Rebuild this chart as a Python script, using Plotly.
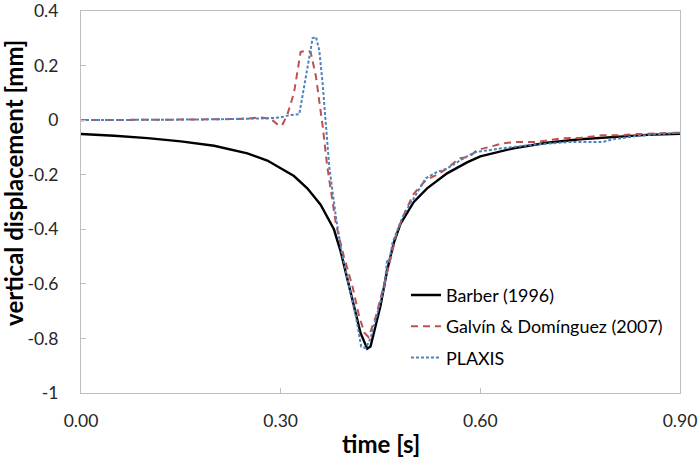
import plotly.graph_objects as go

# Barber (1996)
barber_t = [0.00, 0.05, 0.10, 0.15, 0.20, 0.25, 0.28, 0.30, 0.32, 0.34, 0.36, 0.38, 0.39, 0.40, 0.41, 0.42, 0.43, 0.435,
            0.44, 0.45, 0.46, 0.47, 0.48, 0.50, 0.52, 0.55, 0.58, 0.60, 0.65, 0.70, 0.75, 0.80, 0.85, 0.90]
barber_v = [-0.051, -0.057, -0.066, -0.078, -0.094, -0.122, -0.148, -0.175, -0.205, -0.25, -0.31, -0.40, -0.48, -0.58,
            -0.68, -0.78, -0.838, -0.83, -0.78, -0.68, -0.55, -0.45, -0.38, -0.30, -0.25, -0.195, -0.155, -0.133,
            -0.103, -0.083, -0.07, -0.061, -0.054, -0.05]

# Galvín & Domínguez (2007)
galvin_t = [0.00, 0.05, 0.10, 0.15, 0.20, 0.25, 0.268, 0.285, 0.295, 0.302, 0.31, 0.32, 0.33, 0.34, 0.345, 0.353, 0.363,
            0.37, 0.383, 0.395, 0.408, 0.418, 0.426, 0.432, 0.443, 0.455, 0.466, 0.474, 0.488, 0.50, 0.518, 0.535,
            0.55, 0.568, 0.583, 0.595, 0.613, 0.634, 0.654, 0.684, 0.723, 0.75, 0.784, 0.81, 0.835, 0.86, 0.889, 0.90]
galvin_v = [0.0, 0.0, 0.0, 0.002, 0.003, 0.005, 0.01, 0.005, -0.015, -0.02, 0.02, 0.10, 0.25, 0.255, 0.25, 0.16, -0.02,
            -0.17, -0.38, -0.50, -0.61, -0.72, -0.78, -0.795, -0.72, -0.61, -0.50, -0.415, -0.33, -0.27, -0.22, -0.20,
            -0.177, -0.14, -0.135, -0.11, -0.098, -0.085, -0.08, -0.08, -0.066, -0.065, -0.055, -0.055, -0.051, -0.05,
            -0.047, -0.046]

# PLAXIS
plaxis_t = [0.00, 0.05, 0.10, 0.15, 0.20, 0.25, 0.27, 0.283, 0.30, 0.313, 0.328, 0.338, 0.348, 0.353, 0.358, 0.363,
            0.368, 0.373, 0.383, 0.391, 0.403, 0.413, 0.421, 0.428, 0.435, 0.443, 0.456, 0.46, 0.463, 0.468, 0.483,
            0.504, 0.518, 0.535, 0.55, 0.583, 0.593, 0.633, 0.68, 0.734, 0.784, 0.80, 0.835, 0.889, 0.90]
plaxis_v = [0.0, 0.0, 0.0, 0.002, 0.003, 0.004, 0.007, 0.007, 0.01, 0.018, 0.022, 0.158, 0.30, 0.305, 0.256, 0.135,
            -0.02, -0.17, -0.355, -0.476, -0.61, -0.72, -0.83, -0.835, -0.80, -0.73, -0.61, -0.51, -0.52, -0.45,
            -0.355, -0.27, -0.213, -0.19, -0.177, -0.128, -0.117, -0.103, -0.09, -0.08, -0.08, -0.07, -0.058, -0.047,
            -0.046]

y_ticks = [0.4, 0.2, 0, -0.2, -0.4, -0.6, -0.8, -1]
y_ticklabels = ["0.4", "0.2", "0", "-0.2", "-0.4", "-0.6", "-0.8", "-1"]
x_ticks = [0.0, 0.3, 0.6, 0.9]
x_ticklabels = ["0.00", "0.30", "0.60", "0.90"]

x_title = "time [s]"
y_title = "vertical displacement [mm]"

FONT = "Lato, Open Sans, sans-serif"

fig = go.Figure()
fig.add_trace(go.Scatter(x=barber_t, y=barber_v, mode="lines", name="Barber (1996)", legendgroup="a",
                         line=dict(color="#000000", width=2.4)))
fig.add_trace(go.Scatter(x=galvin_t, y=galvin_v, mode="lines", name="Galvín & Domínguez (2007)", legendgroup="b",
                         line=dict(color="#C0504D", width=2, dash="7px,5px")))
fig.add_trace(go.Scatter(x=plaxis_t, y=plaxis_v, mode="lines", name="PLAXIS", legendgroup="c",
                         line=dict(color="#4F81BD", width=2, dash="3px,2px")))

axis_common = dict(showline=True, linecolor="#BFBFBF", linewidth=1.2, mirror=True, showgrid=False, zeroline=False,
                   ticks="inside", ticklen=5, tickcolor="#BFBFBF", automargin=False, ticklabeloverflow="allow",
                   tickfont=dict(family=FONT, size=17.5, color="#262626"))

fig.update_xaxes(range=[0, 0.9], tickvals=x_ticks, ticktext=x_ticklabels, ticklabelstandoff=12, **axis_common)
fig.update_yaxes(range=[-1, 0.4], tickvals=y_ticks, ticktext=y_ticklabels, ticklabelstandoff=18, **axis_common)

fig.add_annotation(text="<b>" + x_title + "</b>", xref="paper", yref="paper", x=0.5, y=0, yshift=-50,
                   xanchor="center", yanchor="middle", showarrow=False,
                   font=dict(family=FONT, size=24, color="#000000"))
fig.add_annotation(text="<b>" + y_title + "</b>", xref="paper", yref="paper", x=0, xshift=-67, y=0.55,
                   xanchor="center", yanchor="middle", showarrow=False, textangle=-90,
                   font=dict(family=FONT, size=24, color="#000000"))

fig.update_layout(
    width=700, height=466,
    margin=dict(l=81, r=20, t=11, b=73),
    paper_bgcolor="white", plot_bgcolor="white",
    font=dict(family=FONT, color="#000000"),
    legend=dict(x=0.5425, y=0.304, xanchor="left", yanchor="top", bgcolor="rgba(0,0,0,0)",
                font=dict(family=FONT, size=17.9, color="#000000"), tracegroupgap=5, itemwidth=30),
)

fig.write_html("out.html", config={"displayModeBar": False},
               post_script="document.body.style.margin='0';document.body.style.padding='0';")
